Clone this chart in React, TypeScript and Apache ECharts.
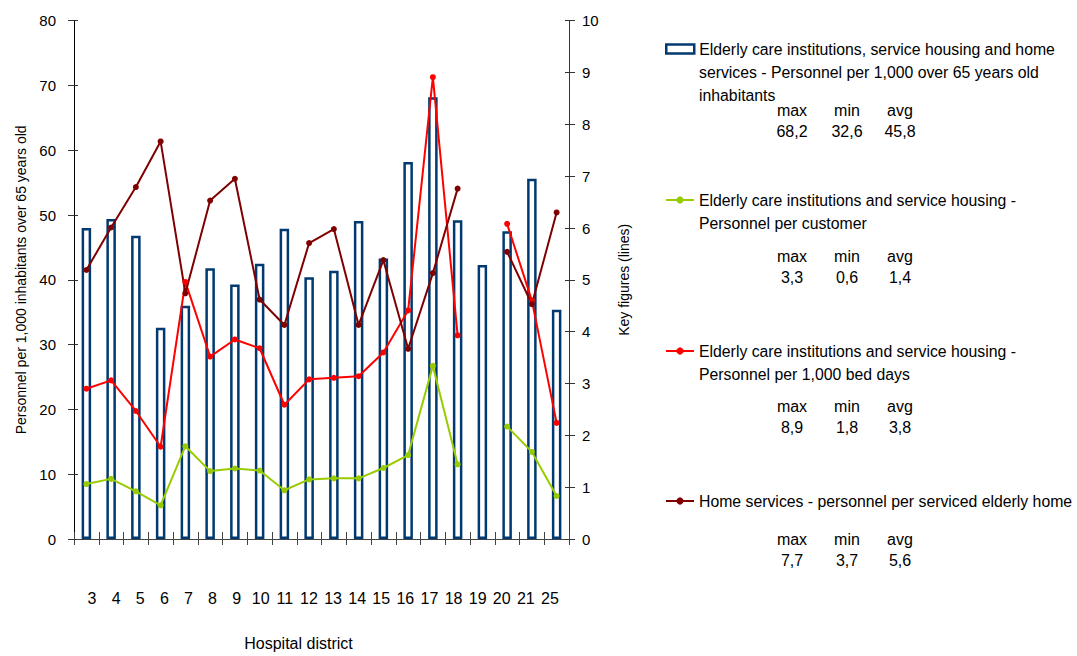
import React, { useEffect, useRef } from "react";
import * as echarts from "echarts";

const districts = ["3", "4", "5", "6", "7", "8", "9", "10", "11", "12", "13", "14", "15", "16", "17", "18", "19", "20", "21", "25"];

const personnelPer1000Over65 = [48.0, 49.4, 46.8, 32.6, 36.0, 41.8, 39.3, 42.5, 47.9, 40.4, 41.4, 49.1, 43.3, 58.2, 68.2, 49.2, 42.3, 47.5, 55.6, 35.4];
const personnelPerCustomer = [1.06, 1.16, 0.92, 0.65, 1.79, 1.31, 1.36, 1.32, 0.94, 1.15, 1.17, 1.17, 1.37, 1.62, 3.34, 1.44, null, 2.17, 1.68, 0.83];
const personnelPerBedDays = [2.9, 3.06, 2.47, 1.78, 4.96, 3.52, 3.85, 3.68, 2.59, 3.08, 3.11, 3.14, 3.6, 4.41, 8.91, 3.93, null, 6.08, 4.6, 2.24];
const personnelPerHome = [5.19, 6.01, 6.79, 7.67, 4.74, 6.53, 6.95, 4.62, 4.13, 5.71, 5.98, 4.13, 5.38, 3.67, 5.13, 6.76, null, 5.54, 4.53, 6.3];

const leftAxis = { min: 0, max: 80, interval: 10 };
const rightAxis = { min: 0, max: 10, interval: 1 };

const seriesNames = [
  "Elderly care institutions, service housing and home services - Personnel per 1,000 over 65 years old inhabitants",
  "Elderly care institutions and service housing - Personnel per customer",
  "Elderly care institutions and service housing - Personnel per 1,000 bed days",
  "Home services - personnel per serviced elderly home",
];
const legendLines = [
  ["Elderly care institutions, service housing and home", "services - Personnel per 1,000 over 65 years old", "inhabitants"],
  ["Elderly care institutions and service housing -", "Personnel per customer"],
  ["Elderly care institutions and service housing -", "Personnel per 1,000 bed days"],
  ["Home services - personnel per serviced elderly home"],
];
const statHeaders = ["max", "min", "avg"];
const statValues = [
  ["68,2", "32,6", "45,8"],
  ["3,3", "0,6", "1,4"],
  ["8,9", "1,8", "3,8"],
  ["7,7", "3,7", "5,6"],
];

const FONT = "'Liberation Sans', Arial, sans-serif";
const BAR_COLOR = "#003a70";
const GREEN = "#99cc00";
const RED = "#ff0000";
const DARK_RED = "#800000";

export default function App() {
  const ref = useRef<HTMLDivElement>(null);
  useEffect(() => {
    if (!ref.current) return;
    const chart = echarts.init(ref.current, undefined, { renderer: "svg" });

    const legendTop = [39, 190, 341, 491];
    const lineGap = 23;
    const headerY = [110, 256, 406, 539];
    const valueY = [131, 277, 427, 560];
    const statX = [792, 847, 900];

    const graphics: any[] = [];
    legendLines.forEach((lines, i) => {
      lines.slice(1).forEach((t, j) => {
        graphics.push({
          type: "text",
          x: 699,
          y: legendTop[i] + 10 + lineGap * (j + 1),
          style: { text: t, font: `15.8px ${FONT}`, fill: "#000", verticalAlign: "middle", align: "left" },
        });
      });
      statHeaders.forEach((h, k) => {
        graphics.push({
          type: "text",
          x: statX[k],
          y: headerY[i],
          style: { text: h, font: `16px ${FONT}`, fill: "#000", verticalAlign: "middle", align: "center" },
        });
        graphics.push({
          type: "text",
          x: statX[k],
          y: valueY[i],
          style: { text: statValues[i][k], font: `16px ${FONT}`, fill: "#000", verticalAlign: "middle", align: "center" },
        });
      });
    });

    const legends = seriesNames.map((name, i) => ({
      show: true,
      left: 665,
      top: legendTop[i],
      padding: 0,
      itemWidth: 28,
      itemHeight: 9,
      selectedMode: false,
      data: [
        i === 0
          ? { name, icon: "rect", itemStyle: { color: "#fff", borderColor: BAR_COLOR, borderWidth: 2.5 } }
          : { name },
      ],
      formatter: () => legendLines[i][0],
      textStyle: { fontSize: 15.8, fontFamily: FONT, color: "#000", lineHeight: 20 },
    }));

    const option: any = {
      animation: false,
      backgroundColor: "#fff",
      textStyle: { fontFamily: FONT },
      grid: [
        { left: 74, top: 20.7, width: 495, height: 519.3, containLabel: false },
        { left: 80, top: 20.7, width: 482, height: 519.3, containLabel: false, show: false },
      ],
      legend: legends,
      graphic: graphics,
      xAxis: [
        {
          type: "category",
          gridIndex: 0,
          data: districts,
          position: "bottom",
          axisLine: { show: true, lineStyle: { color: "#444", width: 1 } },
          axisTick: { show: true, length: 6, lineStyle: { color: "#444" } },
          axisLabel: { show: false },
          name: "Hospital district",
          nameLocation: "middle",
          nameGap: 96,
          nameTextStyle: { fontSize: 16, color: "#000", fontFamily: FONT, padding: [0, 46, 0, 0] },
        },
        {
          type: "category",
          gridIndex: 0,
          data: districts,
          position: "bottom",
          axisLine: { show: false },
          axisTick: { show: true, inside: true, length: 7, lineStyle: { color: "#444" } },
          axisLabel: { show: false },
        },
        {
          type: "category",
          gridIndex: 1,
          data: districts,
          position: "bottom",
          axisLine: { show: false },
          axisTick: { show: false },
          axisLabel: { show: true, margin: 50, fontSize: 16, color: "#000", fontFamily: FONT },
        },
      ],
      yAxis: [
        {
          type: "value",
          gridIndex: 0,
          position: "left",
          min: leftAxis.min,
          max: leftAxis.max,
          interval: leftAxis.interval,
          axisLine: { show: true, lineStyle: { color: "#000" } },
          axisTick: { show: true, length: 6, lineStyle: { color: "#333" } },
          axisLabel: { margin: 18, fontSize: 15, color: "#000", fontFamily: FONT },
          splitLine: { show: false },
          name: "Personnel per 1,000 inhabitants over 65 years old",
          nameLocation: "middle",
          nameRotate: 90,
          nameGap: 46,
          nameTextStyle: { fontSize: 14, color: "#000", fontFamily: FONT },
        },
        {
          type: "value",
          gridIndex: 0,
          position: "right",
          min: rightAxis.min,
          max: rightAxis.max,
          interval: rightAxis.interval,
          axisLine: { show: true, lineStyle: { color: "#333" } },
          axisTick: { show: true, length: 6, lineStyle: { color: "#333" } },
          axisLabel: { margin: 13, fontSize: 15, color: "#000", fontFamily: FONT },
          splitLine: { show: false },
          name: "Key figures (lines)",
          nameLocation: "middle",
          nameRotate: 90,
          nameGap: 48,
          nameTextStyle: { fontSize: 14, color: "#000", fontFamily: FONT },
        },
        {
          type: "value",
          gridIndex: 0,
          position: "left",
          min: leftAxis.min,
          max: leftAxis.max,
          interval: leftAxis.interval,
          axisLine: { show: false },
          axisTick: { show: true, inside: true, length: 4, lineStyle: { color: "#333" } },
          axisLabel: { show: false },
          splitLine: { show: false },
        },
        {
          type: "value",
          gridIndex: 0,
          position: "right",
          min: rightAxis.min,
          max: rightAxis.max,
          interval: rightAxis.interval,
          axisLine: { show: false },
          axisTick: { show: true, inside: true, length: 4, lineStyle: { color: "#333" } },
          axisLabel: { show: false },
          splitLine: { show: false },
        },
        { type: "value", gridIndex: 1, show: false, min: 0, max: 1 },
      ],
      series: [
        {
          name: seriesNames[0],
          type: "bar",
          xAxisIndex: 0,
          yAxisIndex: 0,
          data: personnelPer1000Over65,
          barWidth: 9.5,
          itemStyle: { color: "#fff", borderColor: BAR_COLOR, borderWidth: 2.5 },
        },
        {
          name: seriesNames[1],
          type: "line",
          xAxisIndex: 0,
          yAxisIndex: 1,
          data: personnelPerCustomer,
          symbol: "circle",
          symbolSize: 6,
          connectNulls: false,
          itemStyle: { color: GREEN },
          lineStyle: { color: GREEN, width: 2 },
        },
        {
          name: seriesNames[2],
          type: "line",
          xAxisIndex: 0,
          yAxisIndex: 1,
          data: personnelPerBedDays,
          symbol: "circle",
          symbolSize: 6,
          connectNulls: false,
          itemStyle: { color: RED },
          lineStyle: { color: RED, width: 2 },
        },
        {
          name: seriesNames[3],
          type: "line",
          xAxisIndex: 0,
          yAxisIndex: 1,
          data: personnelPerHome,
          symbol: "circle",
          symbolSize: 6,
          connectNulls: false,
          itemStyle: { color: DARK_RED },
          lineStyle: { color: DARK_RED, width: 2 },
        },
      ],
    };
    chart.setOption(option);
    return () => chart.dispose();
  }, []);

  return (
    <div
      ref={ref}
      style={{ position: "absolute", left: 0, top: 0, width: 1077, height: 656, background: "#fff" }}
    />
  );
}
